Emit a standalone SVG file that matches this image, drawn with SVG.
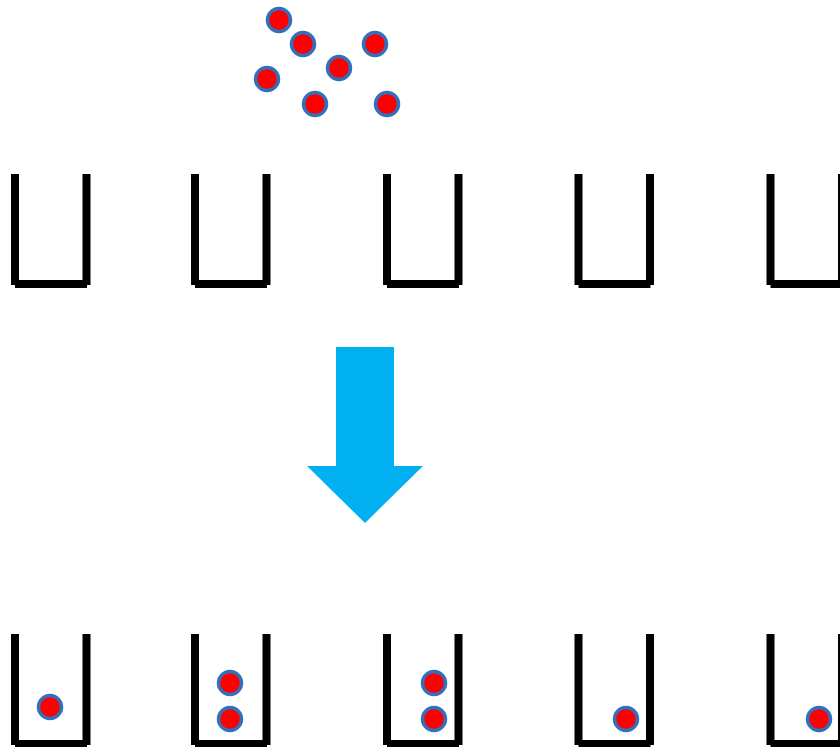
<svg xmlns="http://www.w3.org/2000/svg" width="840" height="747" viewBox="0 0 840 747">
  <defs>
    <style>
      .wall { stroke: #000; stroke-width: 8; fill: none; }
      .ball { fill: #ff0000; stroke: #3170bd; stroke-width: 3.5; }
      .arrow { fill: #00b0f0; }
    </style>
    <!-- a cup: two walls and a floor -->
    <g id="cup">
      <line class="wall" x1="0" y1="0" x2="0" y2="111"/>
      <line class="wall" x1="71.5" y1="0" x2="71.5" y2="111"/>
      <line class="wall" x1="0" y1="110" x2="72" y2="110"/>
    </g>
  </defs>
  <rect width="840" height="747" fill="#fff"/>

  <!-- loose balls above the cups -->
  <g id="loose-balls">
    <circle class="ball" cx="279" cy="20" r="11.5"/>
    <circle class="ball" cx="303" cy="44" r="11.5"/>
    <circle class="ball" cx="375" cy="44" r="11.5"/>
    <circle class="ball" cx="339" cy="68" r="11.5"/>
    <circle class="ball" cx="267" cy="79" r="11.5"/>
    <circle class="ball" cx="315" cy="104" r="11.5"/>
    <circle class="ball" cx="387" cy="104" r="11.5"/>
  </g>

  <!-- empty cups -->
  <g id="cups-top">
    <use href="#cup" x="15" y="174"/>
    <use href="#cup" x="195" y="174"/>
    <use href="#cup" x="387" y="174"/>
    <use href="#cup" x="578.5" y="174"/>
    <use href="#cup" x="770.5" y="174"/>
  </g>

  <!-- down arrow -->
  <g id="arrow">
    <polygon class="arrow" points="336,347 394,347 394,466 423,466 365,523 307,466 336,466"/>
  </g>

  <!-- filled cups -->
  <g id="cups-bottom">
    <use href="#cup" x="15" y="634"/>
    <use href="#cup" x="195" y="634"/>
    <use href="#cup" x="387" y="634"/>
    <use href="#cup" x="578.5" y="634"/>
    <use href="#cup" x="770.5" y="634"/>
  </g>

  <g id="placed-balls">
    <circle class="ball" cx="50" cy="707" r="11.5"/>
    <circle class="ball" cx="230" cy="683" r="11.5"/>
    <circle class="ball" cx="230" cy="719" r="11.5"/>
    <circle class="ball" cx="434" cy="683" r="11.5"/>
    <circle class="ball" cx="434" cy="719" r="11.5"/>
    <circle class="ball" cx="626" cy="719" r="11.5"/>
    <circle class="ball" cx="819" cy="719" r="11.5"/>
  </g>
</svg>
